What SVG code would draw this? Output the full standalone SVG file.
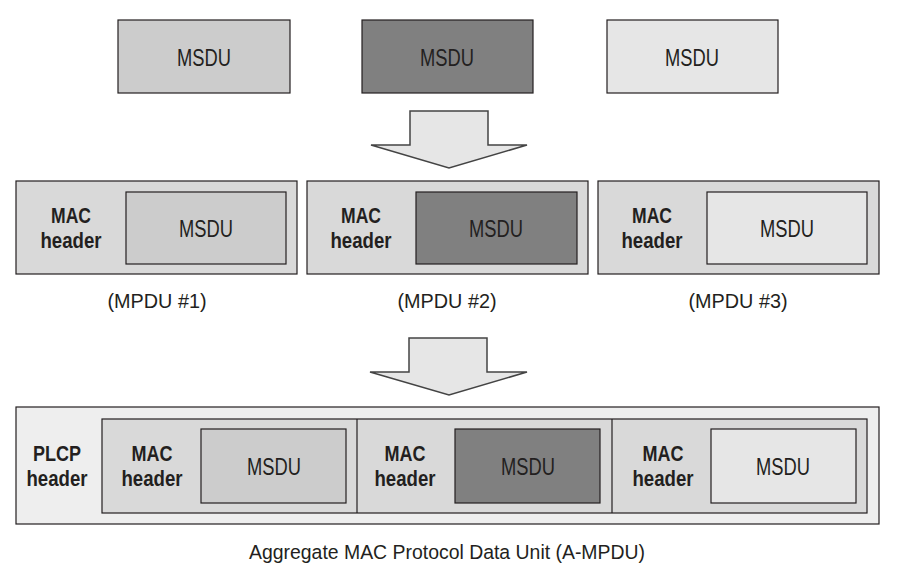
<svg xmlns="http://www.w3.org/2000/svg" width="898" height="569" viewBox="0 0 898 569">
<style>
text{font-family:"Liberation Sans",Arial,sans-serif;fill:#231f20;text-anchor:middle}
.t{font-size:23px}
.b{font-size:22px;font-weight:bold}
.c{font-size:20.5px}
.box{stroke:#231f20;stroke-width:1.2}
.m1{fill:#cccccc}.m2{fill:#808080}.m3{fill:#e6e6e6}
.mp{fill:#d9d9d9}
.arrow{fill:#e6e6e6;stroke:#444;stroke-width:1.5}
</style>
<rect width="898" height="569" fill="#fff"/>
<g id="msdu-top-1"><rect class="box m1" x="118" y="20" width="172" height="73"/><text class="t" x="204" y="66" textLength="54" lengthAdjust="spacingAndGlyphs">MSDU</text></g>
<g id="msdu-top-2"><rect class="box m2" x="362" y="20" width="171" height="73"/><text class="t" x="447" y="66" textLength="54" lengthAdjust="spacingAndGlyphs">MSDU</text></g>
<g id="msdu-top-3"><rect class="box m3" x="607" y="20" width="171" height="73"/><text class="t" x="692" y="66" textLength="54" lengthAdjust="spacingAndGlyphs">MSDU</text></g>
<g id="connectors">
<polygon class="arrow" points="410,111 488,111 488,145 527,145 449,168 371,145 410,145"/>
<polygon class="arrow" points="409,338 487,338 487,372 527,372 449,395 370,372 409,372"/>
</g>
<g id="mpdu-1"><rect class="box mp" x="16" y="181" width="281" height="93"/><text class="b" x="71" y="223" textLength="40" lengthAdjust="spacingAndGlyphs">MAC</text><text class="b" x="71" y="248" textLength="61" lengthAdjust="spacingAndGlyphs">header</text><rect class="box m1" x="126" y="192" width="160" height="72"/><text class="t" x="206" y="237" textLength="54" lengthAdjust="spacingAndGlyphs">MSDU</text><text class="c" x="157" y="308" textLength="99" lengthAdjust="spacingAndGlyphs">(MPDU #1)</text></g>
<g id="mpdu-2"><rect class="box mp" x="307" y="181" width="281" height="93"/><text class="b" x="361" y="223" textLength="40" lengthAdjust="spacingAndGlyphs">MAC</text><text class="b" x="361" y="248" textLength="61" lengthAdjust="spacingAndGlyphs">header</text><rect class="box m2" x="416" y="192" width="161" height="72"/><text class="t" x="496" y="237" textLength="54" lengthAdjust="spacingAndGlyphs">MSDU</text><text class="c" x="447" y="308" textLength="99" lengthAdjust="spacingAndGlyphs">(MPDU #2)</text></g>
<g id="mpdu-3"><rect class="box mp" x="598" y="181" width="281" height="93"/><text class="b" x="652" y="223" textLength="40" lengthAdjust="spacingAndGlyphs">MAC</text><text class="b" x="652" y="248" textLength="61" lengthAdjust="spacingAndGlyphs">header</text><rect class="box m3" x="707" y="192" width="160" height="72"/><text class="t" x="787" y="237" textLength="54" lengthAdjust="spacingAndGlyphs">MSDU</text><text class="c" x="738" y="308" textLength="99" lengthAdjust="spacingAndGlyphs">(MPDU #3)</text></g>
<g id="ampdu">
<rect class="box" fill="#eeeeee" x="16" y="407" width="863" height="117"/>
<text class="b" x="57" y="461" textLength="48" lengthAdjust="spacingAndGlyphs">PLCP</text><text class="b" x="57" y="486" textLength="61" lengthAdjust="spacingAndGlyphs">header</text>
<rect class="box mp" x="102" y="419" width="765" height="94"/>
<line class="box" x1="357" y1="419" x2="357" y2="513"/>
<line class="box" x1="612" y1="419" x2="612" y2="513"/>
<text class="b" x="152" y="461" textLength="41" lengthAdjust="spacingAndGlyphs">MAC</text><text class="b" x="152" y="486" textLength="61" lengthAdjust="spacingAndGlyphs">header</text>
<rect class="box m1" x="201" y="429" width="145" height="74"/><text class="t" x="274" y="475" textLength="54" lengthAdjust="spacingAndGlyphs">MSDU</text>
<text class="b" x="405" y="461" textLength="41" lengthAdjust="spacingAndGlyphs">MAC</text><text class="b" x="405" y="486" textLength="61" lengthAdjust="spacingAndGlyphs">header</text>
<rect class="box m2" x="455" y="429" width="145" height="74"/><text class="t" x="528" y="475" textLength="54" lengthAdjust="spacingAndGlyphs">MSDU</text>
<text class="b" x="663" y="461" textLength="41" lengthAdjust="spacingAndGlyphs">MAC</text><text class="b" x="663" y="486" textLength="61" lengthAdjust="spacingAndGlyphs">header</text>
<rect class="box m3" x="711" y="429" width="145" height="74"/><text class="t" x="783" y="475" textLength="54" lengthAdjust="spacingAndGlyphs">MSDU</text>
<text class="c" x="447" y="559" textLength="396" lengthAdjust="spacingAndGlyphs">Aggregate MAC Protocol Data Unit (A-MPDU)</text>
</g>
</svg>
